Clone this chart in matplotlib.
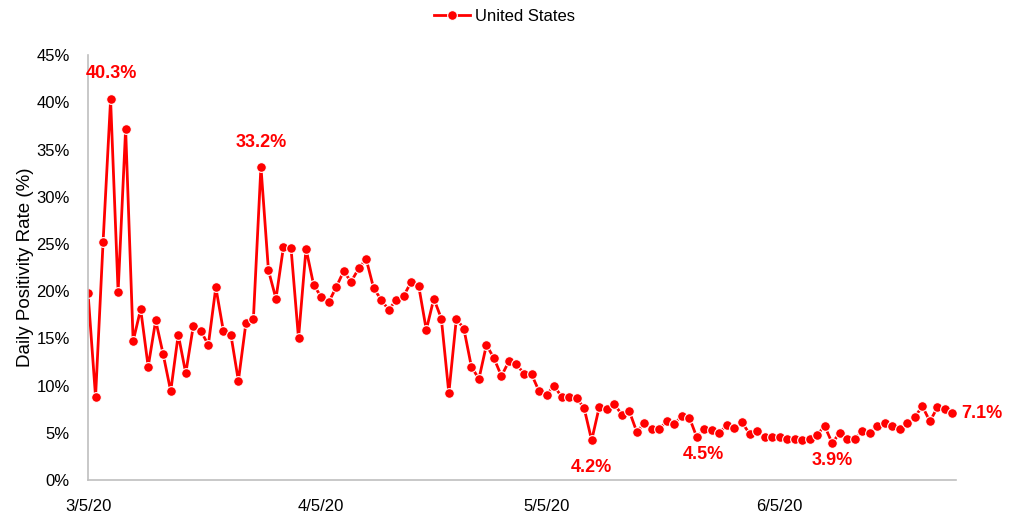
import matplotlib
matplotlib.use("Agg")
import matplotlib.pyplot as plt
import matplotlib.dates as mdates
import matplotlib.ticker as mticker
import numpy as np
import pandas as pd

plt.rcParams['font.family'] = ['Liberation Sans Narrow', 'Liberation Sans', 'DejaVu Sans']

start_date = "2020-03-05"
positivity = [
    19.8, 8.8, 25.2, 40.3, 19.9, 37.2, 14.7, 18.1, 12.0, 16.9,
    13.3, 9.4, 15.4, 11.3, 16.3, 15.8, 14.3, 20.4, 15.8, 15.4,
    10.5, 16.6, 17.1, 33.2, 22.2, 19.2, 24.7, 24.6, 15.0, 24.5,
    20.7, 19.4, 18.8, 20.4, 22.1, 21.0, 22.4, 23.4, 20.3, 19.1,
    18.0, 19.1, 19.5, 21.0, 20.5, 15.9, 19.2, 17.1, 9.2, 17.1,
    16.0, 12.0, 10.7, 14.3, 12.9, 11.0, 12.6, 12.3, 11.2, 11.2,
    9.4, 9.0, 10.0, 8.8, 8.8, 8.7, 7.6, 4.2, 7.7, 7.5,
    8.1, 6.9, 7.3, 5.1, 6.0, 5.4, 5.4, 6.2, 5.9, 6.8,
    6.6, 4.5, 5.4, 5.3, 5.0, 5.8, 5.5, 6.1, 4.9, 5.2,
    4.5, 4.5, 4.5, 4.3, 4.3, 4.2, 4.3, 4.8, 5.7, 3.9,
    5.0, 4.3, 4.3, 5.2, 5.0, 5.7, 6.0, 5.7, 5.4, 6.0,
    6.7, 7.8, 6.2, 7.7, 7.5, 7.1,
]
dates = pd.date_range(start_date, periods=len(positivity), freq="D")
tick_dates = ["2020-03-05", "2020-04-05", "2020-05-05", "2020-06-05"]
tick_labels = ["3/5/20", "4/5/20", "5/5/20", "6/5/20"]
y_ticks = [0, 5, 10, 15, 20, 25, 30, 35, 40, 45]

# annotated points: (index, label, dx_days, dy_pct, ha, va)
annotations = [
    (3, "40.3%", -3.3, 2.7, "left", "center"),
    (23, "33.2%", 0.0, 2.5, "center", "center"),
    (67, "4.2%", 0.0, -2.9, "center", "center"),
    (81, "4.5%", 0.8, -1.8, "center", "center"),
    (99, "3.9%", 0.0, -1.8, "center", "center"),
    (115, "7.1%", 1.2, -0.1, "left", "center"),
]

red = "#FF0000"
fig = plt.figure(figsize=(10.19, 5.15), dpi=100)
ax = fig.add_axes([0.0864, 0.068, 0.852, 0.825])

ax.plot(dates, positivity, color=red, lw=2, marker="o", ms=7,
        mfc=red, mec="white", mew=0.8, label="United States")

ax.set_ylim(0, 45)
ax.set_yticks(y_ticks)
ax.yaxis.set_major_formatter(mticker.FuncFormatter(lambda v, p: f"{int(v)}%"))
x0 = mdates.date2num(dates[0])
ax.set_xlim(x0, x0 + 115.5)
ax.set_xticks([mdates.date2num(pd.Timestamp(d)) for d in tick_dates])
ax.set_xticklabels(tick_labels)

for s in ["top", "right"]:
    ax.spines[s].set_visible(False)
for s in ["left", "bottom"]:
    ax.spines[s].set_color("#BFBFBF")
    ax.spines[s].set_linewidth(1.2)
ax.tick_params(axis="both", length=0, labelsize=12, colors="black")
ax.tick_params(axis="x", pad=14)
ax.tick_params(axis="y", pad=13)
ax.set_ylabel("Daily Positivity Rate (%)", fontsize=13.5, labelpad=2)

for idx, lab, dx, dy, ha, va in annotations:
    ax.text(mdates.date2num(dates[idx]) + dx, positivity[idx] + dy, lab,
            color=red, fontsize=13, fontweight="bold", ha=ha, va=va,
            clip_on=False)

leg = fig.legend(loc="upper center", bbox_to_anchor=(0.495, 1.012), frameon=False,
                 fontsize=12, handlelength=2.2, handletextpad=0.3)

fig.savefig("out.png", dpi=100)
